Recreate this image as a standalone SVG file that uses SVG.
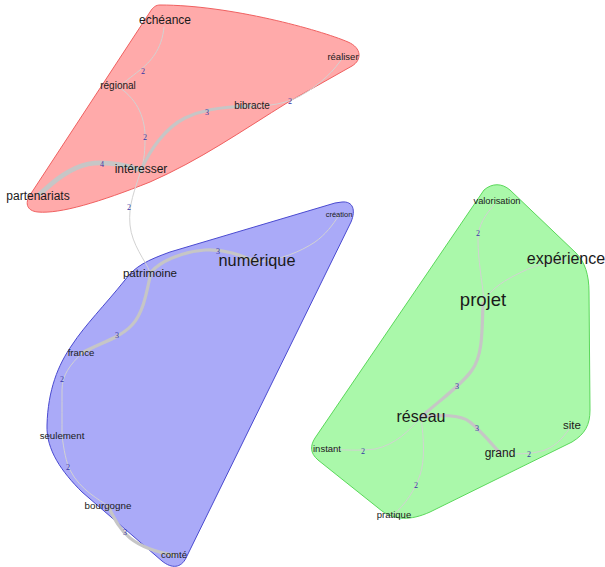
<svg xmlns="http://www.w3.org/2000/svg" width="605" height="567" viewBox="0 0 605 567">
<style>
.hull{stroke-width:1}
.e{fill:none;stroke:#c6c6c6;stroke-linecap:round}
.w2{stroke-width:1;stroke:#d2d2d2}
.w3{stroke-width:3.2}
.w4{stroke-width:4.8}
.el{font-family:"Liberation Serif",serif;font-size:8px;fill:#3535a5;text-anchor:middle}
.n{font-family:"Liberation Sans",Arial,sans-serif;fill:#1a1a1a;text-anchor:middle}
</style>
<rect width="605" height="567" fill="#ffffff"/>
<g id="hulls">
<path id="hull-red" class="hull" fill="#ffaaaa" stroke="#f06060" d="M160,5 C230,5 320,30 348,42 C362,48 362,60 352,66 L290,101 C240,132 200,160 150,182 C100,202 60,214 38,212 C26,211 24,202 32,192 L150,12 C153,7 156,5 160,5 Z"/>
<path id="hull-blue" class="hull" fill="#aaaaf8" stroke="#4a4ad0" d="M342,202 C353,201 356,210 351,222 L186,558 C181,568 172,569 162,561 L82,492 C62,472 46,450 47,425 C48,390 58,365 72,345 C85,325 105,305 125,280 C135,266 148,260 170,252 L335,203 Z"/>
<path id="hull-green" class="hull" fill="#aaf8aa" stroke="#5ad85a" d="M484,190 C492,183 502,183 510,190 L576,253 C585,262 589,275 589,292 L590,410 C590,425 585,434 572,442 L430,512 C410,521 395,520 382,511 L318,460 C310,453 310,446 315,438 L484,190 Z"/>
</g>
<g id="connectors">
<path class="e w2" d="M164,27 C162,50 150,62 140,70 S124,82 118,88"/>
<path class="e w2" d="M120,88 C138,100 146,120 145,140 C145,155 143,165 141,170"/>
<path class="e w3" d="M141,170 C150,150 165,128 185,118 C200,111 215,107 252,106"/>
<path class="e w2" d="M252,106 C270,106 285,104 300,96 C320,85 335,70 343,57"/>
<path class="e w4" d="M141,170 C125,165 105,161 88,164 C70,168 55,180 40,194"/>
<path class="e w2" d="M141,170 C135,190 128,205 130,225 C132,245 145,260 150,272"/>
<path class="e w3" d="M151,272 C160,262 180,252 205,250 C225,249 240,255 257,262"/>
<path class="e w2" d="M257,262 C280,260 300,252 315,242 C325,235 333,225 339,215"/>
<path class="e w3" d="M151,272 C147,290 144,312 132,325 C120,338 100,343 82,353"/>
<path class="e w2" d="M82,353 C70,365 62,375 62,390 C62,405 62,420 62,436"/>
<path class="e w2" d="M62,436 C64,450 66,462 70,470 C80,490 100,500 108,506"/>
<path class="e w3" d="M108,506 C115,520 120,530 130,538 C140,546 155,552 174,555"/>
<path class="e w2" d="M495,204 C485,215 478,225 478,240 C478,260 482,280 484,300"/>
<path class="e w2" d="M566,260 C540,262 525,270 510,278 C495,286 488,295 484,300"/>
<path class="e w3" d="M483,303 C482,330 483,355 472,370 C462,385 440,400 421,417"/>
<path class="e w3" d="M421,417 C440,415 460,414 470,422 C482,432 490,442 500,453"/>
<path class="e w2" d="M500,453 C515,454 530,455 545,450 C558,445 565,435 572,425"/>
<path class="e w2" d="M421,417 C410,430 395,445 375,449 C360,451 345,450 326,449"/>
<path class="e w2" d="M421,417 C424,440 425,460 420,475 C415,490 405,505 393,515"/>
<text class="el" x="143" y="74">2</text>
<text class="el" x="145" y="140">2</text>
<text class="el" x="207" y="115">3</text>
<text class="el" x="290" y="104">2</text>
<text class="el" x="102" y="167">4</text>
<text class="el" x="129" y="210">2</text>
<text class="el" x="218" y="254">3</text>
<text class="el" x="117" y="338">3</text>
<text class="el" x="62" y="382">2</text>
<text class="el" x="68" y="470">2</text>
<text class="el" x="125" y="535">3</text>
<text class="el" x="478" y="236">2</text>
<text class="el" x="457" y="389">3</text>
<text class="el" x="477" y="431">3</text>
<text class="el" x="529" y="457">2</text>
<text class="el" x="363" y="454">2</text>
<text class="el" x="416" y="488">2</text>
</g>
<g id="n-echeance"><text class="n" x="165" y="24" font-size="12">echéance</text></g>
<g id="n-realiser"><text class="n" x="343" y="60" font-size="9.5">réaliser</text></g>
<g id="n-regional"><text class="n" x="118" y="89" font-size="10">régional</text></g>
<g id="n-bibracte"><text class="n" x="252" y="109" font-size="10">bibracte</text></g>
<g id="n-interesser"><text class="n" x="141" y="173" font-size="12">intéresser</text></g>
<g id="n-partenariats"><text class="n" x="38" y="200" font-size="12">partenariats</text></g>
<g id="n-creation"><text class="n" x="339" y="217" font-size="7.5">création</text></g>
<g id="n-numerique"><text class="n" x="257" y="266" font-size="16.3">numérique</text></g>
<g id="n-patrimoine"><text class="n" x="150" y="277" font-size="11.6">patrimoine</text></g>
<g id="n-france"><text class="n" x="81" y="356" font-size="9.6">france</text></g>
<g id="n-seulement"><text class="n" x="62" y="439" font-size="9.7">seulement</text></g>
<g id="n-bourgogne"><text class="n" x="108" y="509" font-size="9.8">bourgogne</text></g>
<g id="n-comte"><text class="n" x="174" y="558" font-size="9.5">comté</text></g>
<g id="n-valorisation"><text class="n" x="497" y="204" font-size="9.3">valorisation</text></g>
<g id="n-experience"><text class="n" x="566" y="264" font-size="16">expérience</text></g>
<g id="n-projet"><text class="n" x="483" y="306" font-size="18.5">projet</text></g>
<g id="n-reseau"><text class="n" x="421" y="422" font-size="16">réseau</text></g>
<g id="n-instant"><text class="n" x="327" y="452" font-size="9.5">instant</text></g>
<g id="n-grand"><text class="n" x="500" y="457" font-size="12">grand</text></g>
<g id="n-site"><text class="n" x="572" y="429" font-size="11.5">site</text></g>
<g id="n-pratique"><text class="n" x="394" y="518" font-size="9.5">pratique</text></g>
</svg>
